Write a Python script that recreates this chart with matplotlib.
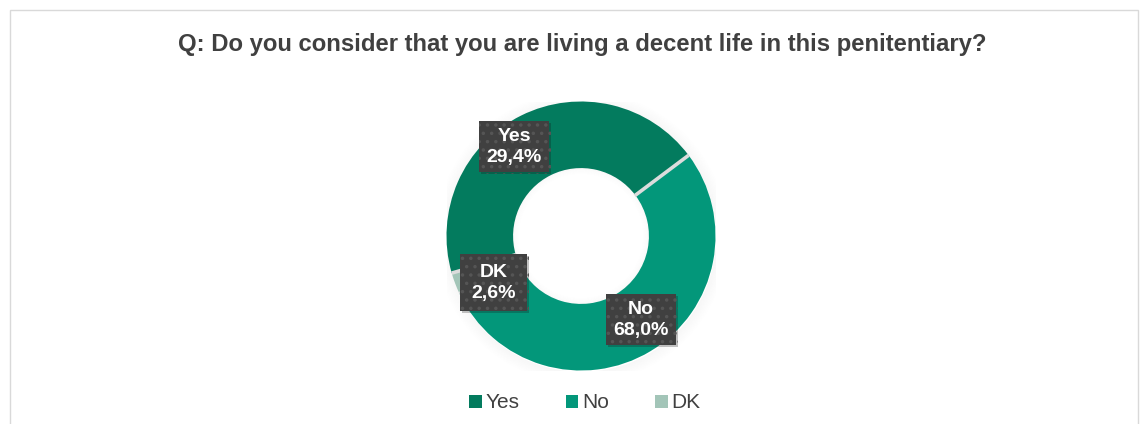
import matplotlib
matplotlib.use("Agg")
import numpy as np
import matplotlib.pyplot as plt
from matplotlib.patches import Rectangle, Wedge
import matplotlib.patheffects as pe

# ---- data ----
categories = ["Yes", "No", "DK"]
printed_pct = [29.4, 68.0, 2.6]          # values printed in the labels
drawn_share = [44.2, 53.2, 2.6]          # angular share of each ring segment as drawn
colors = ["#037B5E", "#03977A", "#A3C5B8"]
title = "Q: Do you consider that you are living a decent life in this penitentiary?"

plt.rcParams['font.family'] = ['Liberation Sans', 'DejaVu Sans']
plt.rcParams['hatch.linewidth'] = 1.3

W, H = 1148, 424
fig = plt.figure(figsize=(W / 100, H / 100), dpi=100)
fig.patch.set_facecolor("white")

# outer chart border
fig.add_artist(Rectangle((10 / W, -0.1), (1138 - 10) / W, (H - 10) / H + 0.1,
                         transform=fig.transFigure, fill=False,
                         edgecolor="#d9d9d9", linewidth=1.0))

fig.text(582 / W, 1 - 45 / H, title, ha="center", va="center",
         fontsize=17.2, fontweight="bold", color="#404040")

cx, cy, R = 581, 236, 134.5
ax = fig.add_axes([(cx - R) / W, (H - cy - R) / H, 2 * R / W, 2 * R / H])
ax.set_xlim(-1, 1)
ax.set_ylim(-1, 1)
ax.set_aspect("equal")
ax.axis("off")

# soft shadow around the ring
for i in range(8):
    r_out = 1.0 + 0.011 * (i + 1)
    ax.add_patch(Wedge((0.004, -0.010), r_out, 0, 360, width=0.011,
                       facecolor="#000000", alpha=0.03 * (8 - i) / 8, linewidth=0, zorder=0))
for i in range(5):
    r_in = 0.505 - 0.009 * i
    ax.add_patch(Wedge((0.0, 0.0), r_in, 0, 360, width=0.009,
                       facecolor="#000000", alpha=0.022 * (5 - i) / 5, linewidth=0, zorder=3))

start = 196
wedges, _ = ax.pie(drawn_share, colors=colors, startangle=start, counterclock=False,
                   radius=1.0, wedgeprops=dict(width=0.495, linewidth=0),
                   frame=False)
for w in wedges:
    w.set_zorder(2)
# thin light separators between segments
bounds = start - 360 * np.cumsum(drawn_share) / sum(drawn_share)
for b in bounds:
    t = np.deg2rad(b)
    ax.plot([0.5 * np.cos(t), 1.0 * np.cos(t)], [0.5 * np.sin(t), 1.0 * np.sin(t)],
            color="#dcdcdc", linewidth=2.6, solid_capstyle="butt", zorder=2.5)
ax.set_xlim(-1, 1)
ax.set_ylim(-1, 1)

# data label boxes (pixel boxes as placed in the reference: left, top, right, bottom)
label_box = {"Yes": (479, 121, 549, 172), "No": (606, 294, 676, 345), "DK": (460, 254, 527, 311)}

def to_data(px, py):
    return (px - cx) / R, (cy - py) / R

for cat, val in zip(categories, printed_pct):
    l, t, r, b = label_box[cat]
    x0, y0 = to_data(l, b)
    x1, y1 = to_data(r, t)
    box = Rectangle((x0, y0), x1 - x0, y1 - y0, facecolor="#404040",
                    edgecolor="#555555", hatch="..", linewidth=0, zorder=9)
    box.set_path_effects([pe.SimplePatchShadow(offset=(1.5, -1.5), alpha=0.25), pe.Normal()])
    ax.add_patch(box)
    ax.text((x0 + x1) / 2, (y0 + y1) / 2 - 0.005,
            f"{cat}\n{val:.1f}%".replace(".", ","),
            ha="center", va="center", fontsize=14, fontweight="bold",
            color="white", linespacing=1.28, zorder=10)

# legend
handles = [Rectangle((0, 0), 1, 1, facecolor=c, edgecolor="none") for c in colors]
fig.legend(handles, categories, loc="center", bbox_to_anchor=(585 / W, 1 - 403 / H),
           ncol=3, frameon=False, fontsize=15, handlelength=0.6, handleheight=0.6,
           handletextpad=0.2, columnspacing=2.2, labelcolor="#404040")

fig.savefig("out.png", dpi=100, facecolor="white")
